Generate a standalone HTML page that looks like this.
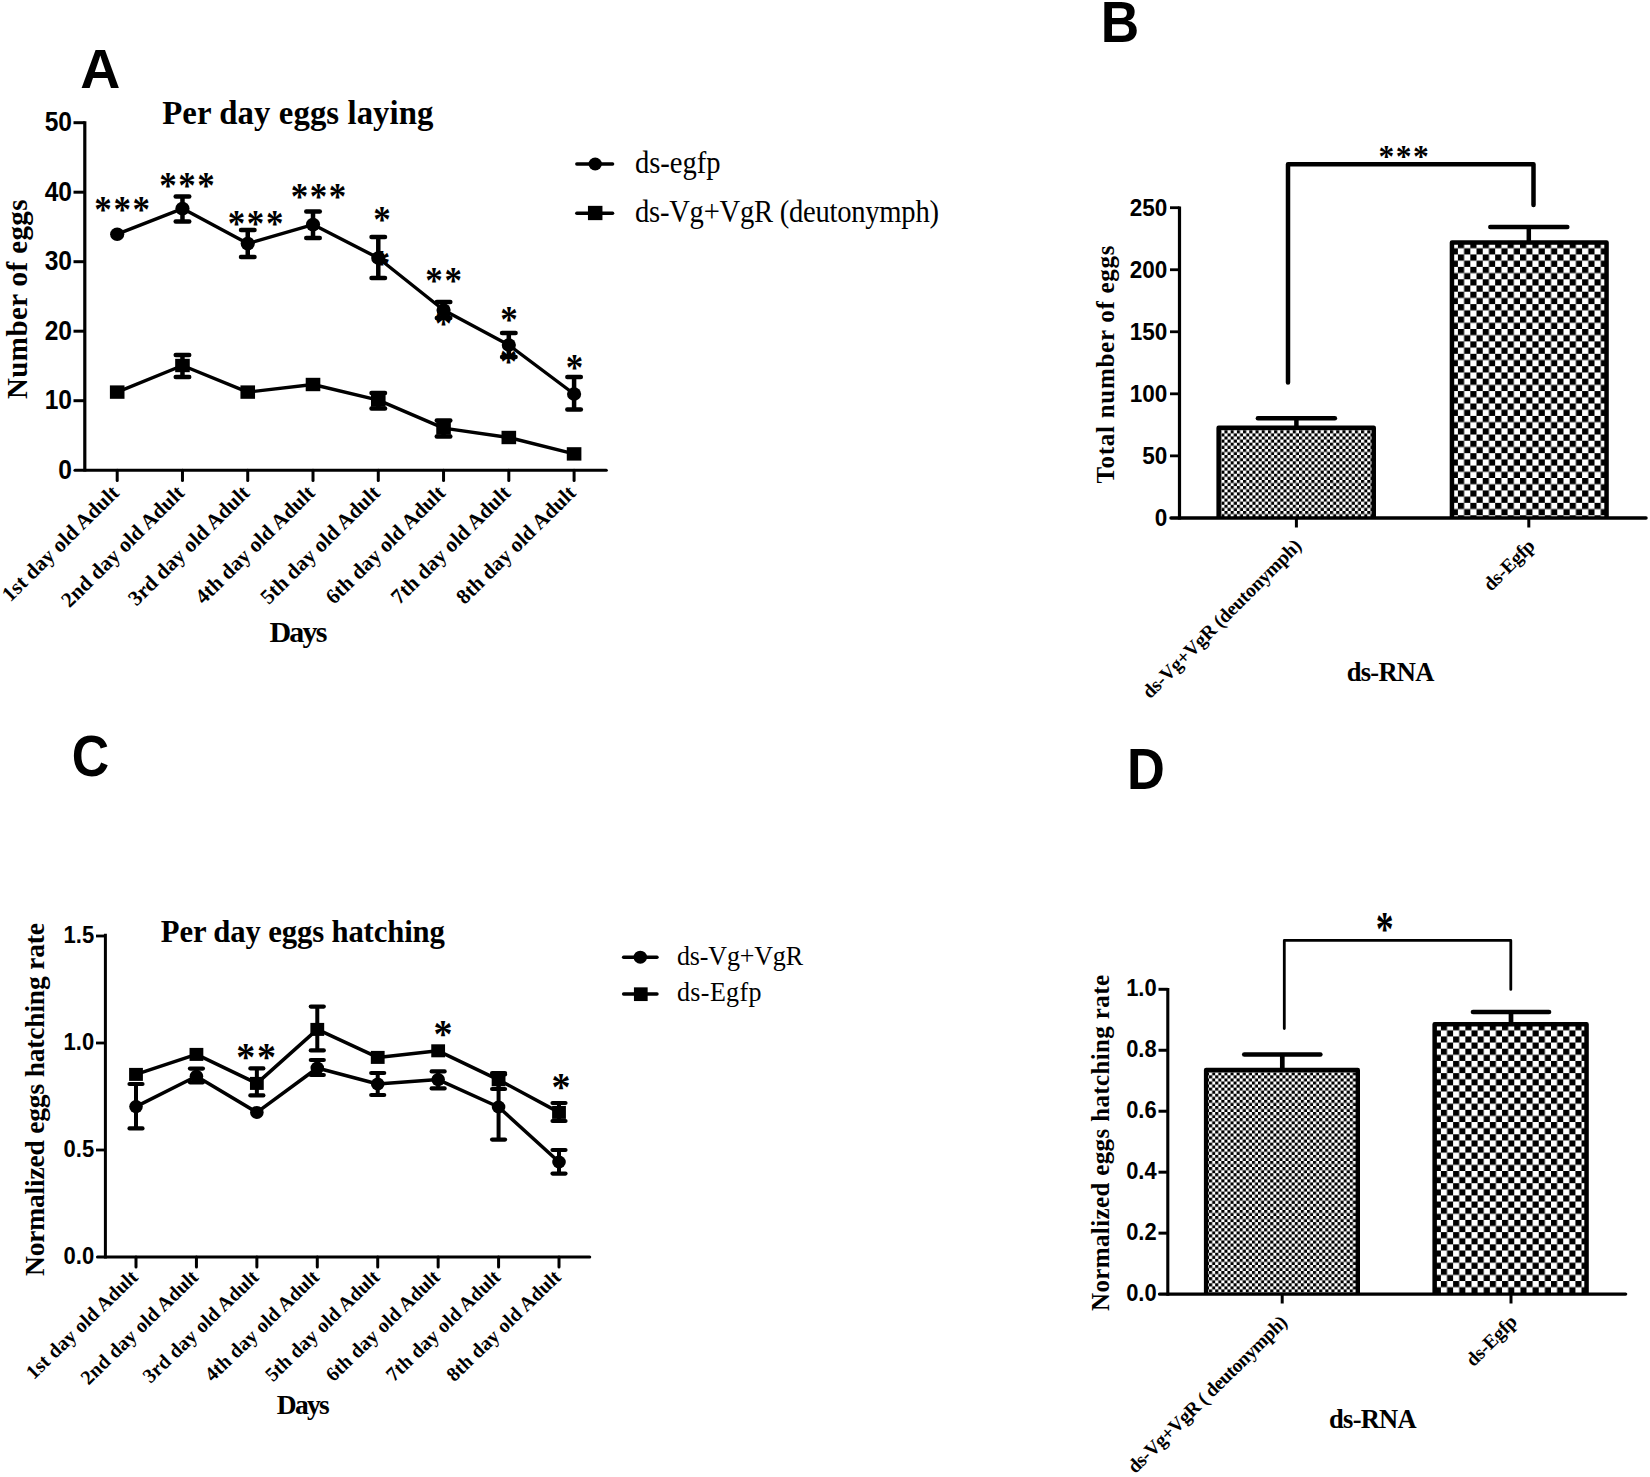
<!DOCTYPE html>
<html lang="en"><head><meta charset="utf-8"><title>Figure</title>
<style>
html,body{margin:0;padding:0;background:#fff;}
body{width:1650px;height:1477px;overflow:hidden;}
svg{display:block;}
.sb{font-family:'Liberation Serif', serif;font-weight:bold;fill:#000;}
.sr{font-family:'Liberation Serif', serif;font-weight:normal;fill:#000;}
.ab{font-family:'Liberation Sans', sans-serif;font-weight:bold;fill:#000;}
</style></head><body>
<svg width="1650" height="1477" viewBox="0 0 1650 1477">
<defs>
<pattern id="chkL" patternUnits="userSpaceOnUse" width="12.420" height="12.420" x="1457.9" y="254.45">
<rect width="12.420" height="12.420" fill="#fff"/><rect x="0" y="0" width="6.210" height="6.210" fill="#000"/><rect x="6.210" y="6.210" width="6.210" height="6.210" fill="#000"/>
</pattern>
<pattern id="chkS" patternUnits="userSpaceOnUse" width="6.210" height="6.210" x="1224.45" y="430.25">
<rect width="6.210" height="6.210" fill="#fff"/><rect x="0" y="0" width="3.105" height="3.105" fill="#000"/><rect x="3.105" y="3.105" width="3.105" height="3.105" fill="#000"/>
</pattern>
<pattern id="chkL2" patternUnits="userSpaceOnUse" width="12.230" height="12.230" x="1440.9" y="1036.45">
<rect width="12.230" height="12.230" fill="#fff"/><rect x="0" y="0" width="6.115" height="6.115" fill="#000"/><rect x="6.115" y="6.115" width="6.115" height="6.115" fill="#000"/>
</pattern>
<pattern id="chkS2" patternUnits="userSpaceOnUse" width="6.116" height="6.116" x="1209.1" y="1075.37">
<rect width="6.116" height="6.116" fill="#fff"/><rect x="0" y="0" width="3.058" height="3.058" fill="#000"/><rect x="3.058" y="3.058" width="3.058" height="3.058" fill="#000"/>
</pattern>
</defs>
<rect width="1650" height="1477" fill="#fff"/>

<g id="panelA">
<text x="80.30" y="88.20" class="ab" font-size="55.5" text-anchor="start" >A</text>
<text x="162.20" y="124.20" class="sb" font-size="32.8" text-anchor="start" textLength="271.3" lengthAdjust="spacing" >Per day eggs laying</text>
<text class="sb" font-size="29" text-anchor="start" textLength="199.5" lengthAdjust="spacing" transform="translate(27.00 399.00) rotate(-90)" >Number of eggs</text>
<line x1="84.80" y1="121.30" x2="84.80" y2="471.40" stroke="#000" stroke-width="3.2" stroke-linecap="butt"/>
<line x1="75.00" y1="470.20" x2="606.30" y2="470.20" stroke="#000" stroke-width="3.1" stroke-linecap="round"/>
<text class="ab" font-size="27.3" text-anchor="end" transform="translate(72.00 478.80) scale(0.9 1)">0</text>
<line x1="73.50" y1="400.70" x2="84.80" y2="400.70" stroke="#000" stroke-width="3" stroke-linecap="butt"/>
<text class="ab" font-size="27.3" text-anchor="end" transform="translate(72.00 409.30) scale(0.9 1)">10</text>
<line x1="73.50" y1="331.20" x2="84.80" y2="331.20" stroke="#000" stroke-width="3" stroke-linecap="butt"/>
<text class="ab" font-size="27.3" text-anchor="end" transform="translate(72.00 339.80) scale(0.9 1)">20</text>
<line x1="73.50" y1="261.70" x2="84.80" y2="261.70" stroke="#000" stroke-width="3" stroke-linecap="butt"/>
<text class="ab" font-size="27.3" text-anchor="end" transform="translate(72.00 270.30) scale(0.9 1)">30</text>
<line x1="73.50" y1="192.20" x2="84.80" y2="192.20" stroke="#000" stroke-width="3" stroke-linecap="butt"/>
<text class="ab" font-size="27.3" text-anchor="end" transform="translate(72.00 200.80) scale(0.9 1)">40</text>
<line x1="73.50" y1="122.70" x2="84.80" y2="122.70" stroke="#000" stroke-width="3" stroke-linecap="butt"/>
<text class="ab" font-size="27.3" text-anchor="end" transform="translate(72.00 131.30) scale(0.9 1)">50</text>
<line x1="117.20" y1="470.20" x2="117.20" y2="480.40" stroke="#000" stroke-width="3" stroke-linecap="round"/>
<text class="sb" font-size="21.3" text-anchor="end" transform="translate(120.20 494.20) rotate(-44.6)" >1st day old Adult</text>
<line x1="182.47" y1="470.20" x2="182.47" y2="480.40" stroke="#000" stroke-width="3" stroke-linecap="round"/>
<text class="sb" font-size="21.3" text-anchor="end" transform="translate(185.47 494.20) rotate(-44.6)" >2nd day old Adult</text>
<line x1="247.74" y1="470.20" x2="247.74" y2="480.40" stroke="#000" stroke-width="3" stroke-linecap="round"/>
<text class="sb" font-size="21.3" text-anchor="end" transform="translate(250.74 494.20) rotate(-44.6)" >3rd day old Adult</text>
<line x1="313.01" y1="470.20" x2="313.01" y2="480.40" stroke="#000" stroke-width="3" stroke-linecap="round"/>
<text class="sb" font-size="21.3" text-anchor="end" transform="translate(316.01 494.20) rotate(-44.6)" >4th day old Adult</text>
<line x1="378.28" y1="470.20" x2="378.28" y2="480.40" stroke="#000" stroke-width="3" stroke-linecap="round"/>
<text class="sb" font-size="21.3" text-anchor="end" transform="translate(381.28 494.20) rotate(-44.6)" >5th day old Adult</text>
<line x1="443.55" y1="470.20" x2="443.55" y2="480.40" stroke="#000" stroke-width="3" stroke-linecap="round"/>
<text class="sb" font-size="21.3" text-anchor="end" transform="translate(446.55 494.20) rotate(-44.6)" >6th day old Adult</text>
<line x1="508.82" y1="470.20" x2="508.82" y2="480.40" stroke="#000" stroke-width="3" stroke-linecap="round"/>
<text class="sb" font-size="21.3" text-anchor="end" transform="translate(511.82 494.20) rotate(-44.6)" >7th day old Adult</text>
<line x1="574.09" y1="470.20" x2="574.09" y2="480.40" stroke="#000" stroke-width="3" stroke-linecap="round"/>
<text class="sb" font-size="21.3" text-anchor="end" transform="translate(577.09 494.20) rotate(-44.6)" >8th day old Adult</text>
<text x="269.40" y="641.60" class="sb" font-size="30" text-anchor="start" textLength="58" lengthAdjust="spacing" >Days</text>
<polyline fill="none" stroke="#000" stroke-width="3.4" stroke-linejoin="round" points="117.2,392.1 182.5,365.5 247.7,392.1 313.0,384.5 378.3,400.1 443.5,428.1 508.8,437.5 574.1,453.9"/>
<rect x="109.90" y="385.40" width="14.6" height="13.4" fill="#000"/>
<line x1="182.47" y1="355.00" x2="182.47" y2="377.00" stroke="#000" stroke-width="4.5" stroke-linecap="butt"/>
<line x1="175.72" y1="355.00" x2="189.22" y2="355.00" stroke="#000" stroke-width="4.5" stroke-linecap="round"/>
<line x1="175.72" y1="377.00" x2="189.22" y2="377.00" stroke="#000" stroke-width="4.5" stroke-linecap="round"/>
<rect x="175.17" y="358.80" width="14.6" height="13.4" fill="#000"/>
<rect x="240.44" y="385.40" width="14.6" height="13.4" fill="#000"/>
<rect x="305.71" y="377.80" width="14.6" height="13.4" fill="#000"/>
<line x1="378.28" y1="393.00" x2="378.28" y2="408.40" stroke="#000" stroke-width="4.5" stroke-linecap="butt"/>
<line x1="371.53" y1="393.00" x2="385.03" y2="393.00" stroke="#000" stroke-width="4.5" stroke-linecap="round"/>
<line x1="371.53" y1="408.40" x2="385.03" y2="408.40" stroke="#000" stroke-width="4.5" stroke-linecap="round"/>
<rect x="370.98" y="393.40" width="14.6" height="13.4" fill="#000"/>
<line x1="443.55" y1="420.60" x2="443.55" y2="436.40" stroke="#000" stroke-width="4.5" stroke-linecap="butt"/>
<line x1="436.80" y1="420.60" x2="450.30" y2="420.60" stroke="#000" stroke-width="4.5" stroke-linecap="round"/>
<line x1="436.80" y1="436.40" x2="450.30" y2="436.40" stroke="#000" stroke-width="4.5" stroke-linecap="round"/>
<rect x="436.25" y="421.40" width="14.6" height="13.4" fill="#000"/>
<rect x="501.52" y="430.80" width="14.6" height="13.4" fill="#000"/>
<rect x="566.79" y="447.20" width="14.6" height="13.4" fill="#000"/>
<text class="sb" font-size="35" x="372.75" y="16.28" transform="translate(0 258.00) scale(1 1.1)">*</text>
<text class="sb" font-size="35" x="434.85" y="16.28" transform="translate(0 318.40) scale(1 1.1)">*</text>
<text class="sb" font-size="35" x="499.85" y="16.28" transform="translate(0 355.80) scale(1 1.1)">*</text>
<polyline fill="none" stroke="#000" stroke-width="3.4" stroke-linejoin="round" points="117.2,234.2 182.5,208.6 247.7,243.6 313.0,224.6 378.3,258.0 443.5,310.0 508.8,345.0 574.1,394.0"/>
<ellipse cx="117.20" cy="234.20" rx="7.1" ry="6.8" fill="#000"/>
<line x1="182.47" y1="196.50" x2="182.47" y2="221.50" stroke="#000" stroke-width="4.5" stroke-linecap="butt"/>
<line x1="175.72" y1="196.50" x2="189.22" y2="196.50" stroke="#000" stroke-width="4.5" stroke-linecap="round"/>
<line x1="175.72" y1="221.50" x2="189.22" y2="221.50" stroke="#000" stroke-width="4.5" stroke-linecap="round"/>
<ellipse cx="182.47" cy="208.60" rx="7.1" ry="6.8" fill="#000"/>
<line x1="247.74" y1="230.00" x2="247.74" y2="257.00" stroke="#000" stroke-width="4.5" stroke-linecap="butt"/>
<line x1="240.99" y1="230.00" x2="254.49" y2="230.00" stroke="#000" stroke-width="4.5" stroke-linecap="round"/>
<line x1="240.99" y1="257.00" x2="254.49" y2="257.00" stroke="#000" stroke-width="4.5" stroke-linecap="round"/>
<ellipse cx="247.74" cy="243.60" rx="7.1" ry="6.8" fill="#000"/>
<line x1="313.01" y1="211.50" x2="313.01" y2="238.00" stroke="#000" stroke-width="4.5" stroke-linecap="butt"/>
<line x1="306.26" y1="211.50" x2="319.76" y2="211.50" stroke="#000" stroke-width="4.5" stroke-linecap="round"/>
<line x1="306.26" y1="238.00" x2="319.76" y2="238.00" stroke="#000" stroke-width="4.5" stroke-linecap="round"/>
<ellipse cx="313.01" cy="224.60" rx="7.1" ry="6.8" fill="#000"/>
<line x1="378.28" y1="237.00" x2="378.28" y2="278.00" stroke="#000" stroke-width="4.5" stroke-linecap="butt"/>
<line x1="371.53" y1="237.00" x2="385.03" y2="237.00" stroke="#000" stroke-width="4.5" stroke-linecap="round"/>
<line x1="371.53" y1="278.00" x2="385.03" y2="278.00" stroke="#000" stroke-width="4.5" stroke-linecap="round"/>
<ellipse cx="378.28" cy="258.00" rx="7.1" ry="6.8" fill="#000"/>
<line x1="443.55" y1="302.00" x2="443.55" y2="318.00" stroke="#000" stroke-width="4.5" stroke-linecap="butt"/>
<line x1="436.80" y1="302.00" x2="450.30" y2="302.00" stroke="#000" stroke-width="4.5" stroke-linecap="round"/>
<line x1="436.80" y1="318.00" x2="450.30" y2="318.00" stroke="#000" stroke-width="4.5" stroke-linecap="round"/>
<ellipse cx="443.55" cy="310.00" rx="7.1" ry="6.8" fill="#000"/>
<line x1="508.82" y1="333.00" x2="508.82" y2="357.00" stroke="#000" stroke-width="4.5" stroke-linecap="butt"/>
<line x1="502.07" y1="333.00" x2="515.57" y2="333.00" stroke="#000" stroke-width="4.5" stroke-linecap="round"/>
<line x1="502.07" y1="357.00" x2="515.57" y2="357.00" stroke="#000" stroke-width="4.5" stroke-linecap="round"/>
<ellipse cx="508.82" cy="345.00" rx="7.1" ry="6.8" fill="#000"/>
<line x1="574.09" y1="377.00" x2="574.09" y2="409.60" stroke="#000" stroke-width="4.5" stroke-linecap="butt"/>
<line x1="567.34" y1="377.00" x2="580.84" y2="377.00" stroke="#000" stroke-width="4.5" stroke-linecap="round"/>
<line x1="567.34" y1="409.60" x2="580.84" y2="409.60" stroke="#000" stroke-width="4.5" stroke-linecap="round"/>
<ellipse cx="574.09" cy="394.00" rx="7.1" ry="6.8" fill="#000"/>
<text class="sb" font-size="35" x="94.35 113.45 132.55" y="16.28" transform="translate(0 203.60) scale(1 1.1)">***</text>
<text class="sb" font-size="35" x="159.15 178.25 197.35" y="16.28" transform="translate(0 179.60) scale(1 1.1)">***</text>
<text class="sb" font-size="35" x="227.75 246.85 265.95" y="16.28" transform="translate(0 218.40) scale(1 1.1)">***</text>
<text class="sb" font-size="35" x="290.65 309.75 328.85" y="16.28" transform="translate(0 191.50) scale(1 1.1)">***</text>
<text class="sb" font-size="35" x="373.25" y="16.28" transform="translate(0 214.50) scale(1 1.1)">*</text>
<text class="sb" font-size="35" x="425.30 444.40" y="16.28" transform="translate(0 275.50) scale(1 1.1)">**</text>
<text class="sb" font-size="35" x="500.25" y="16.28" transform="translate(0 313.60) scale(1 1.1)">*</text>
<text class="sb" font-size="35" x="565.65" y="16.28" transform="translate(0 362.10) scale(1 1.1)">*</text>
<line x1="576.80" y1="164.00" x2="612.60" y2="164.00" stroke="#000" stroke-width="3.4" stroke-linecap="round"/>
<ellipse cx="595.20" cy="164.00" rx="6.7" ry="6.5" fill="#000"/>
<text class="sr" font-size="28.6" text-anchor="start" textLength="85.5" lengthAdjust="spacing" transform="translate(635.00 172.90) scale(1 1.07)" >ds-egfp</text>
<line x1="576.80" y1="213.20" x2="612.60" y2="213.20" stroke="#000" stroke-width="3.4" stroke-linecap="round"/>
<rect x="587.95" y="205.85" width="14.5" height="14.3" fill="#000"/>
<text class="sr" font-size="28.6" text-anchor="start" textLength="304" lengthAdjust="spacing" transform="translate(635.00 222.00) scale(1 1.07)" >ds-Vg+VgR (deutonymph)</text>
</g>
<g id="panelB">
<text class="ab" font-size="57.9" transform="translate(1100.7 41.8) scale(0.92 1)">B</text>
<line x1="1179.50" y1="206.40" x2="1179.50" y2="519.50" stroke="#000" stroke-width="3.2" stroke-linecap="butt"/>
<text class="ab" font-size="24.6" text-anchor="end" transform="translate(1167.30 526.20) scale(0.915 1)">0</text>
<line x1="1170.00" y1="455.86" x2="1179.50" y2="455.86" stroke="#000" stroke-width="2.8" stroke-linecap="butt"/>
<text class="ab" font-size="24.6" text-anchor="end" transform="translate(1167.30 464.16) scale(0.915 1)">50</text>
<line x1="1170.00" y1="393.82" x2="1179.50" y2="393.82" stroke="#000" stroke-width="2.8" stroke-linecap="butt"/>
<text class="ab" font-size="24.6" text-anchor="end" transform="translate(1167.30 402.12) scale(0.915 1)">100</text>
<line x1="1170.00" y1="331.78" x2="1179.50" y2="331.78" stroke="#000" stroke-width="2.8" stroke-linecap="butt"/>
<text class="ab" font-size="24.6" text-anchor="end" transform="translate(1167.30 340.08) scale(0.915 1)">150</text>
<line x1="1170.00" y1="269.74" x2="1179.50" y2="269.74" stroke="#000" stroke-width="2.8" stroke-linecap="butt"/>
<text class="ab" font-size="24.6" text-anchor="end" transform="translate(1167.30 278.04) scale(0.915 1)">200</text>
<line x1="1170.00" y1="207.70" x2="1179.50" y2="207.70" stroke="#000" stroke-width="2.8" stroke-linecap="butt"/>
<text class="ab" font-size="24.6" text-anchor="end" transform="translate(1167.30 216.00) scale(0.915 1)">250</text>
<text class="sb" font-size="25" text-anchor="start" textLength="238" lengthAdjust="spacing" transform="translate(1113.50 483.50) rotate(-90)" >Total number of eggs</text>
<line x1="1296.40" y1="418.30" x2="1296.40" y2="428.00" stroke="#000" stroke-width="4.5" stroke-linecap="butt"/>
<line x1="1257.90" y1="418.30" x2="1334.90" y2="418.30" stroke="#000" stroke-width="4.5" stroke-linecap="round"/>
<line x1="1528.80" y1="227.00" x2="1528.80" y2="243.00" stroke="#000" stroke-width="4.5" stroke-linecap="butt"/>
<line x1="1490.30" y1="227.00" x2="1567.30" y2="227.00" stroke="#000" stroke-width="4.5" stroke-linecap="round"/>
<rect x="1218.65" y="427.75" width="155.10" height="90.15" fill="url(#chkS)"/>
<path d="M1218.65 517.90 V427.75 H1373.75 V517.90" fill="none" stroke="#000" stroke-width="4.5" stroke-linejoin="round"/>
<rect x="1451.95" y="242.45" width="154.60" height="275.45" fill="url(#chkL)"/>
<path d="M1451.95 517.90 V242.45 H1606.55 V517.90" fill="none" stroke="#000" stroke-width="4.5" stroke-linejoin="round"/>
<line x1="1171.00" y1="517.90" x2="1646.00" y2="517.90" stroke="#000" stroke-width="3.5" stroke-linecap="round"/>
<line x1="1296.40" y1="517.90" x2="1296.40" y2="527.50" stroke="#000" stroke-width="3" stroke-linecap="butt"/>
<line x1="1528.80" y1="517.90" x2="1528.80" y2="527.50" stroke="#000" stroke-width="3" stroke-linecap="butt"/>
<polyline fill="none" stroke="#000" stroke-width="4.5" stroke-linecap="round" stroke-linejoin="round" points="1288,382.5 1288,164.3 1533.5,164.3 1533.5,205"/>
<text class="sb" font-size="31.5" x="1378.42 1395.72 1413.02" y="14.65" transform="translate(0 152.40) scale(1 1.0)">***</text>
<text class="sb" font-size="19.5" text-anchor="end" textLength="215.5" lengthAdjust="spacing" transform="translate(1302.50 547.00) rotate(-45)" >ds-Vg+VgR (deutonymph)</text>
<text class="sb" font-size="19.5" text-anchor="end" textLength="63.5" lengthAdjust="spacing" transform="translate(1536.00 547.00) rotate(-45)" >ds-Egfp</text>
<text x="1346.80" y="680.50" class="sb" font-size="26.5" text-anchor="start" textLength="87.5" lengthAdjust="spacing" >ds-RNA</text>
</g>
<g id="panelC">
<text class="ab" font-size="57.1" transform="translate(71.8 775.7) scale(0.907 1)">C</text>
<text x="160.80" y="942.30" class="sb" font-size="30.7" text-anchor="start" textLength="284" lengthAdjust="spacing" >Per day eggs hatching</text>
<line x1="105.40" y1="933.70" x2="105.40" y2="1258.50" stroke="#000" stroke-width="3" stroke-linecap="butt"/>
<line x1="97.50" y1="1257.00" x2="589.70" y2="1257.00" stroke="#000" stroke-width="3.1" stroke-linecap="round"/>
<text class="ab" font-size="24.2" text-anchor="end" transform="translate(94.20 1264.00) scale(0.91 1)">0.0</text>
<line x1="96.00" y1="1150.00" x2="105.40" y2="1150.00" stroke="#000" stroke-width="2.8" stroke-linecap="butt"/>
<text class="ab" font-size="24.2" text-anchor="end" transform="translate(94.20 1157.00) scale(0.91 1)">0.5</text>
<line x1="96.00" y1="1043.00" x2="105.40" y2="1043.00" stroke="#000" stroke-width="2.8" stroke-linecap="butt"/>
<text class="ab" font-size="24.2" text-anchor="end" transform="translate(94.20 1050.00) scale(0.91 1)">1.0</text>
<line x1="96.00" y1="936.00" x2="105.40" y2="936.00" stroke="#000" stroke-width="2.8" stroke-linecap="butt"/>
<text class="ab" font-size="24.2" text-anchor="end" transform="translate(94.20 943.00) scale(0.91 1)">1.5</text>
<text class="sb" font-size="27.5" text-anchor="start" textLength="353" lengthAdjust="spacing" transform="translate(44.40 1276.00) rotate(-90)" >Normalized eggs hatching rate</text>
<line x1="136.00" y1="1257.00" x2="136.00" y2="1267.00" stroke="#000" stroke-width="3" stroke-linecap="round"/>
<text class="sb" font-size="20.2" text-anchor="end" transform="translate(139.00 1278.50) rotate(-44)" >1st day old Adult</text>
<line x1="196.43" y1="1257.00" x2="196.43" y2="1267.00" stroke="#000" stroke-width="3" stroke-linecap="round"/>
<text class="sb" font-size="20.2" text-anchor="end" transform="translate(199.43 1278.50) rotate(-44)" >2nd day old Adult</text>
<line x1="256.86" y1="1257.00" x2="256.86" y2="1267.00" stroke="#000" stroke-width="3" stroke-linecap="round"/>
<text class="sb" font-size="20.2" text-anchor="end" transform="translate(259.86 1278.50) rotate(-44)" >3rd day old Adult</text>
<line x1="317.29" y1="1257.00" x2="317.29" y2="1267.00" stroke="#000" stroke-width="3" stroke-linecap="round"/>
<text class="sb" font-size="20.2" text-anchor="end" transform="translate(320.29 1278.50) rotate(-44)" >4th day old Adult</text>
<line x1="377.72" y1="1257.00" x2="377.72" y2="1267.00" stroke="#000" stroke-width="3" stroke-linecap="round"/>
<text class="sb" font-size="20.2" text-anchor="end" transform="translate(380.72 1278.50) rotate(-44)" >5th day old Adult</text>
<line x1="438.15" y1="1257.00" x2="438.15" y2="1267.00" stroke="#000" stroke-width="3" stroke-linecap="round"/>
<text class="sb" font-size="20.2" text-anchor="end" transform="translate(441.15 1278.50) rotate(-44)" >6th day old Adult</text>
<line x1="498.58" y1="1257.00" x2="498.58" y2="1267.00" stroke="#000" stroke-width="3" stroke-linecap="round"/>
<text class="sb" font-size="20.2" text-anchor="end" transform="translate(501.58 1278.50) rotate(-44)" >7th day old Adult</text>
<line x1="559.01" y1="1257.00" x2="559.01" y2="1267.00" stroke="#000" stroke-width="3" stroke-linecap="round"/>
<text class="sb" font-size="20.2" text-anchor="end" transform="translate(562.01 1278.50) rotate(-44)" >8th day old Adult</text>
<text x="276.80" y="1414.20" class="sb" font-size="27.5" text-anchor="start" textLength="53" lengthAdjust="spacing" >Days</text>
<polyline fill="none" stroke="#000" stroke-width="3.5" stroke-linejoin="round" points="136.0,1106.6 196.4,1076.3 256.9,1112.4 317.3,1068.0 377.7,1084.0 438.1,1079.6 498.6,1107.0 559.0,1162.0"/>
<line x1="136.00" y1="1084.00" x2="136.00" y2="1128.40" stroke="#000" stroke-width="4" stroke-linecap="butt"/>
<line x1="129.50" y1="1084.00" x2="142.50" y2="1084.00" stroke="#000" stroke-width="4.2" stroke-linecap="round"/>
<line x1="129.50" y1="1128.40" x2="142.50" y2="1128.40" stroke="#000" stroke-width="4.2" stroke-linecap="round"/>
<ellipse cx="136.00" cy="1106.60" rx="6.8" ry="6.5" fill="#000"/>
<line x1="196.43" y1="1068.60" x2="196.43" y2="1082.30" stroke="#000" stroke-width="4" stroke-linecap="butt"/>
<line x1="189.93" y1="1068.60" x2="202.93" y2="1068.60" stroke="#000" stroke-width="4.2" stroke-linecap="round"/>
<line x1="189.93" y1="1082.30" x2="202.93" y2="1082.30" stroke="#000" stroke-width="4.2" stroke-linecap="round"/>
<ellipse cx="196.43" cy="1076.30" rx="6.8" ry="6.5" fill="#000"/>
<ellipse cx="256.86" cy="1112.40" rx="6.8" ry="6.5" fill="#000"/>
<line x1="317.29" y1="1060.00" x2="317.29" y2="1075.00" stroke="#000" stroke-width="4" stroke-linecap="butt"/>
<line x1="310.79" y1="1060.00" x2="323.79" y2="1060.00" stroke="#000" stroke-width="4.2" stroke-linecap="round"/>
<line x1="310.79" y1="1075.00" x2="323.79" y2="1075.00" stroke="#000" stroke-width="4.2" stroke-linecap="round"/>
<ellipse cx="317.29" cy="1068.00" rx="6.8" ry="6.5" fill="#000"/>
<line x1="377.72" y1="1073.00" x2="377.72" y2="1095.00" stroke="#000" stroke-width="4" stroke-linecap="butt"/>
<line x1="371.22" y1="1073.00" x2="384.22" y2="1073.00" stroke="#000" stroke-width="4.2" stroke-linecap="round"/>
<line x1="371.22" y1="1095.00" x2="384.22" y2="1095.00" stroke="#000" stroke-width="4.2" stroke-linecap="round"/>
<ellipse cx="377.72" cy="1084.00" rx="6.8" ry="6.5" fill="#000"/>
<line x1="438.15" y1="1071.40" x2="438.15" y2="1088.40" stroke="#000" stroke-width="4" stroke-linecap="butt"/>
<line x1="431.65" y1="1071.40" x2="444.65" y2="1071.40" stroke="#000" stroke-width="4.2" stroke-linecap="round"/>
<line x1="431.65" y1="1088.40" x2="444.65" y2="1088.40" stroke="#000" stroke-width="4.2" stroke-linecap="round"/>
<ellipse cx="438.15" cy="1079.60" rx="6.8" ry="6.5" fill="#000"/>
<line x1="498.58" y1="1074.40" x2="498.58" y2="1139.60" stroke="#000" stroke-width="4" stroke-linecap="butt"/>
<line x1="492.08" y1="1074.40" x2="505.08" y2="1074.40" stroke="#000" stroke-width="4.2" stroke-linecap="round"/>
<line x1="492.08" y1="1139.60" x2="505.08" y2="1139.60" stroke="#000" stroke-width="4.2" stroke-linecap="round"/>
<ellipse cx="498.58" cy="1107.00" rx="6.8" ry="6.5" fill="#000"/>
<line x1="559.01" y1="1150.00" x2="559.01" y2="1173.60" stroke="#000" stroke-width="4" stroke-linecap="butt"/>
<line x1="552.51" y1="1150.00" x2="565.51" y2="1150.00" stroke="#000" stroke-width="4.2" stroke-linecap="round"/>
<line x1="552.51" y1="1173.60" x2="565.51" y2="1173.60" stroke="#000" stroke-width="4.2" stroke-linecap="round"/>
<ellipse cx="559.01" cy="1162.00" rx="6.8" ry="6.5" fill="#000"/>
<polyline fill="none" stroke="#000" stroke-width="3.5" stroke-linejoin="round" points="136.0,1074.4 196.4,1054.4 256.9,1083.4 317.3,1029.4 377.7,1057.4 438.1,1050.8 498.6,1079.8 559.0,1112.4"/>
<rect x="129.10" y="1067.90" width="13.8" height="13" fill="#000"/>
<rect x="189.53" y="1047.90" width="13.8" height="13" fill="#000"/>
<line x1="256.86" y1="1068.40" x2="256.86" y2="1095.40" stroke="#000" stroke-width="4" stroke-linecap="butt"/>
<line x1="250.36" y1="1068.40" x2="263.36" y2="1068.40" stroke="#000" stroke-width="4.2" stroke-linecap="round"/>
<line x1="250.36" y1="1095.40" x2="263.36" y2="1095.40" stroke="#000" stroke-width="4.2" stroke-linecap="round"/>
<rect x="249.96" y="1076.90" width="13.8" height="13" fill="#000"/>
<line x1="317.29" y1="1006.60" x2="317.29" y2="1050.40" stroke="#000" stroke-width="4" stroke-linecap="butt"/>
<line x1="310.79" y1="1006.60" x2="323.79" y2="1006.60" stroke="#000" stroke-width="4.2" stroke-linecap="round"/>
<line x1="310.79" y1="1050.40" x2="323.79" y2="1050.40" stroke="#000" stroke-width="4.2" stroke-linecap="round"/>
<rect x="310.39" y="1022.90" width="13.8" height="13" fill="#000"/>
<rect x="370.82" y="1050.90" width="13.8" height="13" fill="#000"/>
<rect x="431.25" y="1044.30" width="13.8" height="13" fill="#000"/>
<line x1="498.58" y1="1073.00" x2="498.58" y2="1089.00" stroke="#000" stroke-width="4" stroke-linecap="butt"/>
<line x1="492.08" y1="1073.00" x2="505.08" y2="1073.00" stroke="#000" stroke-width="4.2" stroke-linecap="round"/>
<line x1="492.08" y1="1089.00" x2="505.08" y2="1089.00" stroke="#000" stroke-width="4.2" stroke-linecap="round"/>
<rect x="491.68" y="1073.30" width="13.8" height="13" fill="#000"/>
<line x1="559.01" y1="1103.00" x2="559.01" y2="1121.00" stroke="#000" stroke-width="4" stroke-linecap="butt"/>
<line x1="552.51" y1="1103.00" x2="565.51" y2="1103.00" stroke="#000" stroke-width="4.2" stroke-linecap="round"/>
<line x1="552.51" y1="1121.00" x2="565.51" y2="1121.00" stroke="#000" stroke-width="4.2" stroke-linecap="round"/>
<rect x="552.11" y="1105.90" width="13.8" height="13" fill="#000"/>
<text class="sb" font-size="38" x="236.25 256.95" y="17.67" transform="translate(0 1051.40) scale(1 1.07)">**</text>
<text class="sb" font-size="38" x="433.50" y="17.67" transform="translate(0 1028.00) scale(1 1.07)">*</text>
<text class="sb" font-size="38" x="551.50" y="17.67" transform="translate(0 1081.50) scale(1 1.07)">*</text>
<line x1="623.60" y1="957.20" x2="657.00" y2="957.20" stroke="#000" stroke-width="3.4" stroke-linecap="round"/>
<ellipse cx="640.30" cy="957.20" rx="6.7" ry="6.5" fill="#000"/>
<text class="sr" font-size="26" text-anchor="start" textLength="126" lengthAdjust="spacing" transform="translate(677.00 964.60) scale(1 1.07)" >ds-Vg+VgR</text>
<line x1="623.60" y1="994.00" x2="657.00" y2="994.00" stroke="#000" stroke-width="3.4" stroke-linecap="round"/>
<rect x="633.95" y="987.35" width="13.7" height="13.7" fill="#000"/>
<text class="sr" font-size="26" text-anchor="start" textLength="84.5" lengthAdjust="spacing" transform="translate(677.00 1001.30) scale(1 1.07)" >ds-Egfp</text>
</g>
<g id="panelD">
<text class="ab" font-size="57.9" transform="translate(1127.1 788.7) scale(0.905 1)">D</text>
<line x1="1167.80" y1="988.00" x2="1167.80" y2="1295.80" stroke="#000" stroke-width="3.1" stroke-linecap="butt"/>
<text class="ab" font-size="23.7" text-anchor="end" transform="translate(1156.60 1300.90) scale(0.925 1)">0.0</text>
<line x1="1158.50" y1="1233.14" x2="1167.80" y2="1233.14" stroke="#000" stroke-width="3" stroke-linecap="butt"/>
<text class="ab" font-size="23.7" text-anchor="end" transform="translate(1156.60 1239.94) scale(0.925 1)">0.2</text>
<line x1="1158.50" y1="1172.18" x2="1167.80" y2="1172.18" stroke="#000" stroke-width="3" stroke-linecap="butt"/>
<text class="ab" font-size="23.7" text-anchor="end" transform="translate(1156.60 1178.98) scale(0.925 1)">0.4</text>
<line x1="1158.50" y1="1111.22" x2="1167.80" y2="1111.22" stroke="#000" stroke-width="3" stroke-linecap="butt"/>
<text class="ab" font-size="23.7" text-anchor="end" transform="translate(1156.60 1118.02) scale(0.925 1)">0.6</text>
<line x1="1158.50" y1="1050.26" x2="1167.80" y2="1050.26" stroke="#000" stroke-width="3" stroke-linecap="butt"/>
<text class="ab" font-size="23.7" text-anchor="end" transform="translate(1156.60 1057.06) scale(0.925 1)">0.8</text>
<line x1="1158.50" y1="989.30" x2="1167.80" y2="989.30" stroke="#000" stroke-width="3" stroke-linecap="butt"/>
<text class="ab" font-size="23.7" text-anchor="end" transform="translate(1156.60 996.10) scale(0.925 1)">1.0</text>
<text class="sb" font-size="25" text-anchor="start" textLength="336" lengthAdjust="spacing" transform="translate(1108.70 1311.00) rotate(-90)" >Normalized eggs hatching rate</text>
<line x1="1282.30" y1="1054.50" x2="1282.30" y2="1070.00" stroke="#000" stroke-width="4.7" stroke-linecap="butt"/>
<line x1="1244.30" y1="1054.50" x2="1320.30" y2="1054.50" stroke="#000" stroke-width="4.7" stroke-linecap="round"/>
<line x1="1511.00" y1="1012.00" x2="1511.00" y2="1024.00" stroke="#000" stroke-width="4.7" stroke-linecap="butt"/>
<line x1="1473.00" y1="1012.00" x2="1549.00" y2="1012.00" stroke="#000" stroke-width="4.7" stroke-linecap="round"/>
<rect x="1206.10" y="1070.00" width="151.70" height="224.10" fill="url(#chkS2)"/>
<path d="M1206.10 1294.10 V1070.00 H1357.80 V1294.10" fill="none" stroke="#000" stroke-width="4.4" stroke-linejoin="round"/>
<rect x="1434.65" y="1024.15" width="151.90" height="269.95" fill="url(#chkL2)"/>
<path d="M1434.65 1294.10 V1024.15 H1586.55 V1294.10" fill="none" stroke="#000" stroke-width="4.5" stroke-linejoin="round"/>
<line x1="1159.50" y1="1294.10" x2="1625.60" y2="1294.10" stroke="#000" stroke-width="3.4" stroke-linecap="round"/>
<line x1="1282.20" y1="1294.10" x2="1282.20" y2="1303.50" stroke="#000" stroke-width="3" stroke-linecap="butt"/>
<line x1="1511.00" y1="1294.10" x2="1511.00" y2="1303.50" stroke="#000" stroke-width="3" stroke-linecap="butt"/>
<polyline fill="none" stroke="#000" stroke-width="2.8" stroke-linecap="round" stroke-linejoin="round" points="1284.3,1028.6 1284.3,940.4 1510.8,940.4 1510.8,989.4"/>
<text class="sb" font-size="35.7" x="1375.67" y="16.60" transform="translate(0 922.10) scale(1 1.36)">*</text>
<text class="sb" font-size="19.5" text-anchor="end" textLength="215" lengthAdjust="spacing" transform="translate(1288.50 1323.50) rotate(-44.5)" >ds-Vg+VgR ( deutonymph)</text>
<text class="sb" font-size="19.5" text-anchor="end" textLength="63.5" lengthAdjust="spacing" transform="translate(1518.30 1322.70) rotate(-45)" >ds-Egfp</text>
<text x="1329.10" y="1428.00" class="sb" font-size="26.5" text-anchor="start" textLength="87.5" lengthAdjust="spacing" >ds-RNA</text>
</g>
</svg></body></html>
